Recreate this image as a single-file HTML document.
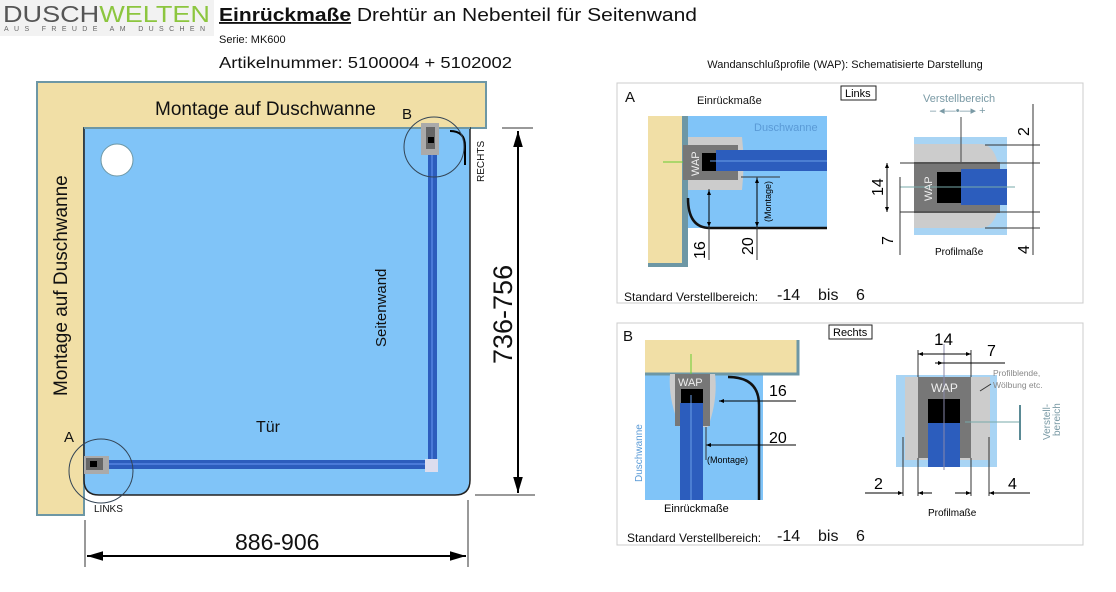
<!DOCTYPE html>
<html><head><meta charset="utf-8"><style>
html,body{margin:0;padding:0;background:#fff;width:1116px;height:592px;overflow:hidden}
svg{display:block;font-family:"Liberation Sans",sans-serif}
</style></head><body>
<svg width="1116" height="592" viewBox="0 0 1116 592" xmlns="http://www.w3.org/2000/svg">
<defs>
<marker id="ar" viewBox="0 0 10 10" refX="10" refY="5" markerWidth="8" markerHeight="8" orient="auto-start-reverse"><path d="M0,2L10,5L0,8z" fill="#000"/></marker>
<marker id="sa" viewBox="0 0 10 10" refX="10" refY="5" markerWidth="5" markerHeight="5" orient="auto-start-reverse"><path d="M0,1L10,5L0,9z" fill="#000"/></marker>
</defs>
<!-- header -->
<rect x="0" y="0" width="214" height="36" fill="#f2f2f2"/>
<text x="3" y="22" font-size="23" fill="#555" textLength="207" lengthAdjust="spacingAndGlyphs">DUSCH<tspan fill="#8cc63f">WELTEN</tspan></text>
<text x="4" y="31" font-size="7" fill="#666" textLength="201" lengthAdjust="spacing">AUS FREUDE AM DUSCHEN</text>
<text x="219" y="21" font-size="18.5" fill="#111" textLength="478" lengthAdjust="spacingAndGlyphs"><tspan font-weight="bold" text-decoration="underline">Einrückmaße</tspan> Drehtür an Nebenteil für Seitenwand</text>
<text x="219" y="43" font-size="11" fill="#111">Serie:  MK600</text>
<text x="219" y="68" font-size="15.5" fill="#111" textLength="293" lengthAdjust="spacingAndGlyphs">Artikelnummer: 5100004 + 5102002</text>

<!-- main diagram -->
<path d="M37,82H486V128H84V515H37Z" fill="#f1dfa6" stroke="#6d97a5" stroke-width="2"/>
<path d="M84,128H470V480Q470,495 455,495H99Q84,495 84,480Z" fill="#80c4f8" stroke="#222" stroke-width="1.5"/>
<path d="M84,128H470" stroke="#6d97a5" stroke-width="2"/>
<circle cx="117" cy="160" r="16" fill="#fff" stroke="#6d97a5"/>
<rect x="428" y="128" width="9" height="332" fill="#2c5dbd"/>
<rect x="431" y="128" width="2" height="332" fill="#4a7ad8"/>
<rect x="88" y="460" width="340" height="9" fill="#2c5dbd"/>
<rect x="88" y="463" width="340" height="2" fill="#4a7ad8"/>
<rect x="425" y="459" width="13" height="13" fill="#dde"/>
<rect x="421" y="123" width="18" height="32" fill="#aaa"/><rect x="426" y="127" width="9" height="22" fill="#666"/><rect x="428" y="137" width="6" height="6" fill="#000"/>
<rect x="84" y="456" width="25" height="18" fill="#aaa"/><rect x="86" y="458" width="17" height="12" fill="#666"/><rect x="90" y="461" width="7" height="6" fill="#000"/>
<path d="M450,131Q465,131 465,146V165" stroke="#000" stroke-width="2" fill="none"/>
<circle cx="434" cy="147" r="30" fill="none" stroke="#345" stroke-width="1"/>
<circle cx="101" cy="471" r="32" fill="none" stroke="#345" stroke-width="1"/>
<text x="155" y="115" font-size="19" fill="#111">Montage auf Duschwanne</text>
<text transform="translate(67,396) rotate(-90)" font-size="19" fill="#111">Montage auf Duschwanne</text>
<text transform="translate(386,347) rotate(-90)" font-size="15" fill="#111">Seitenwand</text>
<text x="256" y="432" font-size="16" fill="#111">Tür</text>
<text x="64" y="442" font-size="15" fill="#111">A</text>
<text x="402" y="119" font-size="15" fill="#111">B</text>
<text x="94" y="512" font-size="10" fill="#111">LINKS</text>
<text transform="translate(484,182) rotate(-90)" font-size="10" fill="#111">RECHTS</text>
<!-- dims -->
<line x1="502" y1="128" x2="533" y2="128" stroke="#333"/>
<line x1="475" y1="495" x2="535" y2="495" stroke="#333"/>
<line x1="518" y1="131" x2="518" y2="493" stroke="#000" stroke-width="2" marker-start="url(#ar)" marker-end="url(#ar)"/>
<text transform="translate(512,364) rotate(-90)" font-size="27" fill="#111">736-756</text>
<line x1="85" y1="520" x2="85" y2="567" stroke="#333"/>
<line x1="468" y1="500" x2="468" y2="567" stroke="#333"/>
<line x1="87" y1="556" x2="466" y2="556" stroke="#000" stroke-width="2" marker-start="url(#ar)" marker-end="url(#ar)"/>
<text x="235" y="550" font-size="23" fill="#111">886-906</text>

<!-- right title -->
<text x="845" y="68" font-size="11" fill="#111" text-anchor="middle">Wandanschlußprofile (WAP): Schematisierte Darstellung</text>

<!-- Panel A -->
<rect x="617" y="83" width="466" height="220" fill="#fff" stroke="#ccc"/>
<text x="625" y="102" font-size="15" fill="#111">A</text>
<text x="697" y="104" font-size="11" fill="#111">Einrückmaße</text>
<rect x="841" y="86" width="35" height="14" fill="#fff" stroke="#222"/><text x="845" y="97" font-size="11">Links</text>
<rect x="683" y="116" width="144" height="112" fill="#80c4f8"/>
<rect x="648" y="116" width="35" height="151" fill="#f1dfa6"/>
<rect x="682" y="116" width="6" height="151" fill="#6d97a5"/>
<rect x="648" y="263" width="40" height="4" fill="#6d97a5"/>
<text x="754" y="131" font-size="11" fill="#5a9ad6">Duschwanne</text>
<path d="M688,137H742Q745,163 742,190H688Z" fill="#ccc"/>
<rect x="683" y="145" width="55" height="35" fill="#777"/>
<rect x="702" y="153" width="14" height="18" fill="#000"/>
<rect x="716" y="150" width="111" height="21" fill="#2c5dbd"/>
<line x1="710" y1="161" x2="827" y2="161" stroke="#6a9ee8"/>
<line x1="663" y1="162" x2="683" y2="162" stroke="#6c3"/>
<text transform="translate(699,176) rotate(-90)" font-size="11" fill="#eee">WAP</text>
<path d="M688,198Q688,228 710,228H827" stroke="#111" stroke-width="2.5" fill="none"/>
<line x1="741" y1="177" x2="780" y2="177" stroke="#333"/>
<line x1="709" y1="189" x2="709" y2="260" stroke="#333"/>
<line x1="709" y1="190" x2="709" y2="227" stroke="#000" marker-start="url(#sa)" marker-end="url(#sa)"/>
<line x1="757" y1="177" x2="757" y2="260" stroke="#333"/>
<line x1="757" y1="178" x2="757" y2="227" stroke="#000" marker-start="url(#sa)" marker-end="url(#sa)"/>
<text transform="translate(705,259) rotate(-90)" font-size="16">16</text>
<text transform="translate(753,255) rotate(-90)" font-size="16">20</text>
<text transform="translate(771,222) rotate(-90)" font-size="9">(Montage)</text>
<!-- profile A -->
<rect x="914" y="137" width="93" height="98" fill="#a8d4f4"/>
<path d="M914,144H980Q1000,144 1000,187Q1000,228 980,228H914Z" fill="#ccc"/>
<rect x="914" y="162" width="86" height="51" fill="#777"/>
<rect x="937" y="172" width="24" height="31" fill="#000"/>
<rect x="961" y="169" width="46" height="36" fill="#2c5dbd"/>
<line x1="900" y1="187" x2="1015" y2="187" stroke="#7aa"/>
<text transform="translate(932,201) rotate(-90)" font-size="11" fill="#eee">WAP</text>
<text x="923" y="102" font-size="11" fill="#7a9aa5">Verstellbereich</text>
<text x="930" y="114" font-size="11" fill="#7a9aa5">– ◂—•—▸ +</text>
<line x1="961" y1="117" x2="961" y2="162" stroke="#444"/>
<line x1="1033" y1="104" x2="1033" y2="255" stroke="#333"/>
<line x1="900" y1="163" x2="1040" y2="163" stroke="#333"/>
<line x1="985" y1="145" x2="1040" y2="145" stroke="#333"/>
<line x1="900" y1="212" x2="1040" y2="212" stroke="#333"/>
<line x1="985" y1="228" x2="1040" y2="228" stroke="#333"/>
<line x1="887" y1="163" x2="887" y2="212" stroke="#000" marker-start="url(#sa)" marker-end="url(#sa)"/>
<line x1="900" y1="177" x2="900" y2="255" stroke="#333"/>
<text transform="translate(883,196) rotate(-90)" font-size="16">14</text>
<text transform="translate(893,245) rotate(-90)" font-size="16">7</text>
<text transform="translate(1029,136) rotate(-90)" font-size="16">2</text>
<text transform="translate(1029,254) rotate(-90)" font-size="16">4</text>
<text x="935" y="255" font-size="10">Profilmaße</text>
<text x="624" y="301" font-size="12" fill="#111">Standard Verstellbereich:</text>
<text x="777" y="300" font-size="16" fill="#111">-14</text><text x="818" y="300" font-size="16" fill="#111">bis</text><text x="856" y="300" font-size="16" fill="#111">6</text>

<!-- Panel B -->
<rect x="617" y="323" width="466" height="222" fill="#fff" stroke="#ccc"/>
<text x="623" y="341" font-size="15" fill="#111">B</text>
<rect x="829" y="325" width="43" height="14" fill="#fff" stroke="#222"/><text x="833" y="336" font-size="11">Rechts</text>
<rect x="645" y="374" width="118" height="126" fill="#80c4f8"/>
<rect x="645" y="340" width="153" height="34" fill="#f1dfa6"/>
<path d="M645,374H798V340" stroke="#6d97a5" stroke-width="3" fill="none"/>
<line x1="691" y1="354" x2="691" y2="374" stroke="#6c3"/>
<path d="M670,374H715Q718,400 708,427H680Q668,400 670,374Z" fill="#ccc"/>
<rect x="675" y="374" width="35" height="52" fill="#777"/>
<rect x="681" y="389" width="22" height="18" fill="#000"/>
<rect x="680" y="403" width="23" height="97" fill="#2c5dbd"/>
<line x1="691" y1="395" x2="691" y2="500" stroke="#6a9ee8"/>
<text x="678" y="386" font-size="11" fill="#eee">WAP</text>
<path d="M728,377Q759,377 759,405V500" stroke="#111" stroke-width="2.5" fill="none"/>
<line x1="719" y1="401" x2="796" y2="401" stroke="#000" marker-start="url(#sa)"/>
<line x1="706" y1="445" x2="796" y2="445" stroke="#000" marker-start="url(#sa)"/>
<line x1="706" y1="427" x2="706" y2="460" stroke="#333"/>
<text transform="translate(642,482) rotate(-90)" font-size="10" fill="#5a9ad6">Duschwanne</text>
<text x="769" y="396" font-size="16">16</text>
<text x="769" y="443" font-size="16">20</text>
<text x="707" y="463" font-size="9">(Montage)</text>
<text x="664" y="512" font-size="11">Einrückmaße</text>
<!-- profile B -->
<rect x="896" y="375" width="101" height="92" fill="#a8d4f4"/>
<path d="M905,377H990V460H905Z" fill="#ccc"/>
<rect x="918" y="377" width="53" height="81" fill="#777"/>
<rect x="928" y="399" width="32" height="24" fill="#000"/>
<rect x="928" y="423" width="32" height="44" fill="#2c5dbd"/>
<line x1="944" y1="344" x2="944" y2="470" stroke="#88a"/>
<text x="931" y="392" font-size="12" fill="#eee">WAP</text>
<line x1="918" y1="350" x2="918" y2="377" stroke="#333"/>
<line x1="971" y1="350" x2="971" y2="377" stroke="#333"/>
<line x1="918" y1="354" x2="971" y2="354" stroke="#000" marker-start="url(#sa)" marker-end="url(#sa)"/>
<line x1="935" y1="363" x2="1005" y2="363" stroke="#000"/>
<line x1="935" y1="363" x2="943" y2="363" stroke="#000" marker-end="url(#sa)"/>
<text x="934" y="345" font-size="17">14</text>
<text x="987" y="356" font-size="16">7</text>
<text x="993" y="376" font-size="8.5" fill="#888">Profilblende,</text>
<text x="993" y="388" font-size="8.5" fill="#888">Wölbung etc.</text>
<line x1="991" y1="384" x2="980" y2="391" stroke="#333"/>
<line x1="965" y1="422" x2="1020" y2="422" stroke="#7aa"/>
<line x1="1020" y1="405" x2="1020" y2="440" stroke="#5a8a95" stroke-width="2"/>
<text transform="translate(1050,440) rotate(-90)" font-size="10" fill="#7a9aa5">Verstell-</text>
<text transform="translate(1060,436) rotate(-90)" font-size="10" fill="#7a9aa5">bereich</text>
<line x1="903" y1="437" x2="903" y2="496" stroke="#333"/>
<line x1="918" y1="458" x2="918" y2="496" stroke="#333"/>
<line x1="971" y1="458" x2="971" y2="496" stroke="#333"/>
<line x1="989" y1="437" x2="989" y2="496" stroke="#333"/>
<line x1="865" y1="493" x2="903" y2="493" stroke="#000" marker-end="url(#sa)"/>
<line x1="918" y1="493" x2="932" y2="493" stroke="#000" marker-start="url(#sa)"/>
<line x1="955" y1="493" x2="971" y2="493" stroke="#000" marker-end="url(#sa)"/>
<line x1="989" y1="493" x2="1030" y2="493" stroke="#000" marker-start="url(#sa)"/>
<text x="874" y="489" font-size="16">2</text>
<text x="1008" y="489" font-size="16">4</text>
<text x="928" y="516" font-size="10">Profilmaße</text>
<text x="627" y="542" font-size="12" fill="#111">Standard Verstellbereich:</text>
<text x="777" y="541" font-size="16" fill="#111">-14</text><text x="818" y="541" font-size="16" fill="#111">bis</text><text x="856" y="541" font-size="16" fill="#111">6</text>
</svg>
</body></html>
